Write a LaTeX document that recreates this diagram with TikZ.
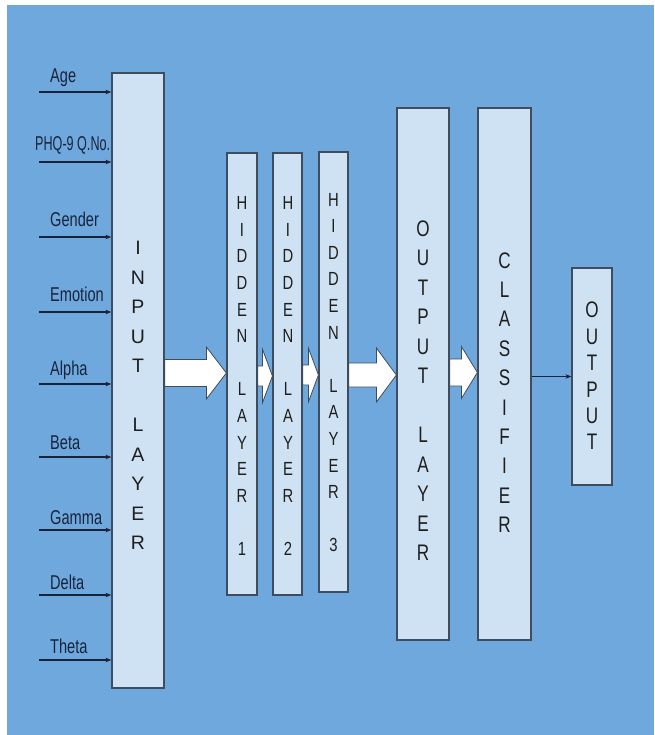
\documentclass[tikz,border=0pt]{standalone}
\usepackage{fontspec}
\setmainfont{Liberation Sans}
\newfontfamily\hidfont[FakeStretch=0.78]{Liberation Sans}
\newfontfamily\outfont[FakeStretch=0.76]{Liberation Sans}
\usetikzlibrary{arrows.meta,calc}

\definecolor{bgblue}{HTML}{6FA8DC}
\definecolor{boxfill}{HTML}{CFE2F3}
\definecolor{boxline}{HTML}{3E4C5E}
\definecolor{inkblue}{HTML}{18243D}
\definecolor{letters}{HTML}{1E1E1E}

% block arrow: from, to, y, shaft half, head half, head length
\newcommand\blockarr[6]{%
  \path (#1.east|-0,#3) coordinate (ba-s) (#2.west|-0,#3) coordinate (ba-t);
  \draw[barrow] ($(ba-s)+(0,-#4)$) -- ($(ba-t)+(-#6,-#4)$) -- ($(ba-t)+(-#6,-#5)$)
    -- (ba-t) -- ($(ba-t)+(-#6,#5)$) -- ($(ba-t)+(-#6,#4)$) -- ($(ba-s)+(0,#4)$) -- cycle;}

\begin{document}
\begin{tikzpicture}[x=1pt,y=-1pt,
  layer/.style={draw=boxline,fill=boxfill,line width=1.2pt,inner sep=0},
  vtext/.style={align=center,inner sep=0,text=letters},
  lab/.style={anchor=base west,inner sep=0,text=inkblue,font=\fontsize{20}{24}\selectfont},
  inarrow/.style={draw=inkblue,line width=1.2pt,-{Stealth[length=6pt,width=4.5pt]}},
  barrow/.style={fill=white,draw=boxline,line width=0.8pt,line join=miter}]
\useasboundingbox (0,0) rectangle (654,735);
\fill[white] (0,0) rectangle (654,735);
\fill[bgblue] (7,5) rectangle (654,735);

% layers
\node[layer,minimum width=52,minimum height=615] (input) at (138,380.5) {};
\node[layer,minimum width=30,minimum height=442] (hid1) at (242,374) {};
\node[layer,minimum width=29,minimum height=442] (hid2) at (287.5,374) {};
\node[layer,minimum width=29,minimum height=440] (hid3) at (333.5,372) {};
\node[layer,minimum width=52,minimum height=532] (outlayer) at (423,374) {};
\node[layer,minimum width=53,minimum height=532] (classifier) at (504.5,374) {};
\node[layer,minimum width=40,minimum height=217] (output) at (592,376.5) {};

% letters
\node[vtext,font=\fontsize{19.5}{29.5}\selectfont] (input-txt) at (138,395.5)
  {I\\N\\P\\U\\T\\~\\L\\A\\Y\\E\\R};
\foreach \n/\x/\y in {1/242/376, 2/288/376, 3/333.5/372.5}
  \node[vtext,font=\hidfont\fontsize{19}{26.6}\selectfont] (hid\n-txt) at (\x,\y)
    {H\\I\\D\\D\\E\\N\\~\\L\\A\\Y\\E\\R\\~\\\n};
\node[vtext,font=\outfont\fontsize{22.5}{29.5}\selectfont] (outlayer-txt) at (423,390.5)
  {O\\U\\T\\P\\U\\T\\~\\L\\A\\Y\\E\\R};
\node[vtext,font=\outfont\fontsize{22.5}{29.4}\selectfont] (classifier-txt) at (504.5,392.5)
  {C\\L\\A\\S\\S\\I\\F\\I\\E\\R};
\node[vtext,font=\outfont\fontsize{22.5}{26.4}\selectfont] (output-txt) at (592,376)
  {O\\U\\T\\P\\U\\T};

% inputs
\foreach \lab/\sx/\lx/\ly/\ay [count=\i] in {Age/.73/50/83/92, PHQ-9 Q.No./.63/35/151/162,
    Gender/.73/50/226/237, Emotion/.73/50/301/312, Alpha/.73/50/375/384, Beta/.73/50/449/457,
    Gamma/.73/50/524/530, Delta/.73/50/589/595, Theta/.73/50/653/660}{
  \node[lab] (lab\i) at (\lx,\ly) {\scalebox{\sx}[1]{\lab}};
  \coordinate (src\i) at (39,\ay);
  \draw[inarrow] (src\i) -- (input.west|-src\i);
}

% block arrows
\blockarr{input}{hid1}{373}{13.5}{26}{20}
\blockarr{hid1}{hid2}{376}{10}{27}{10}
\blockarr{hid2}{hid3}{375}{10}{27}{10}
\blockarr{hid3}{outlayer}{375}{12}{27}{20}
\blockarr{outlayer}{classifier}{372.5}{13.5}{26}{16}
\draw[inarrow,line width=1pt] (classifier.east|-output.west) -- (output.west);
\end{tikzpicture}
\end{document}
